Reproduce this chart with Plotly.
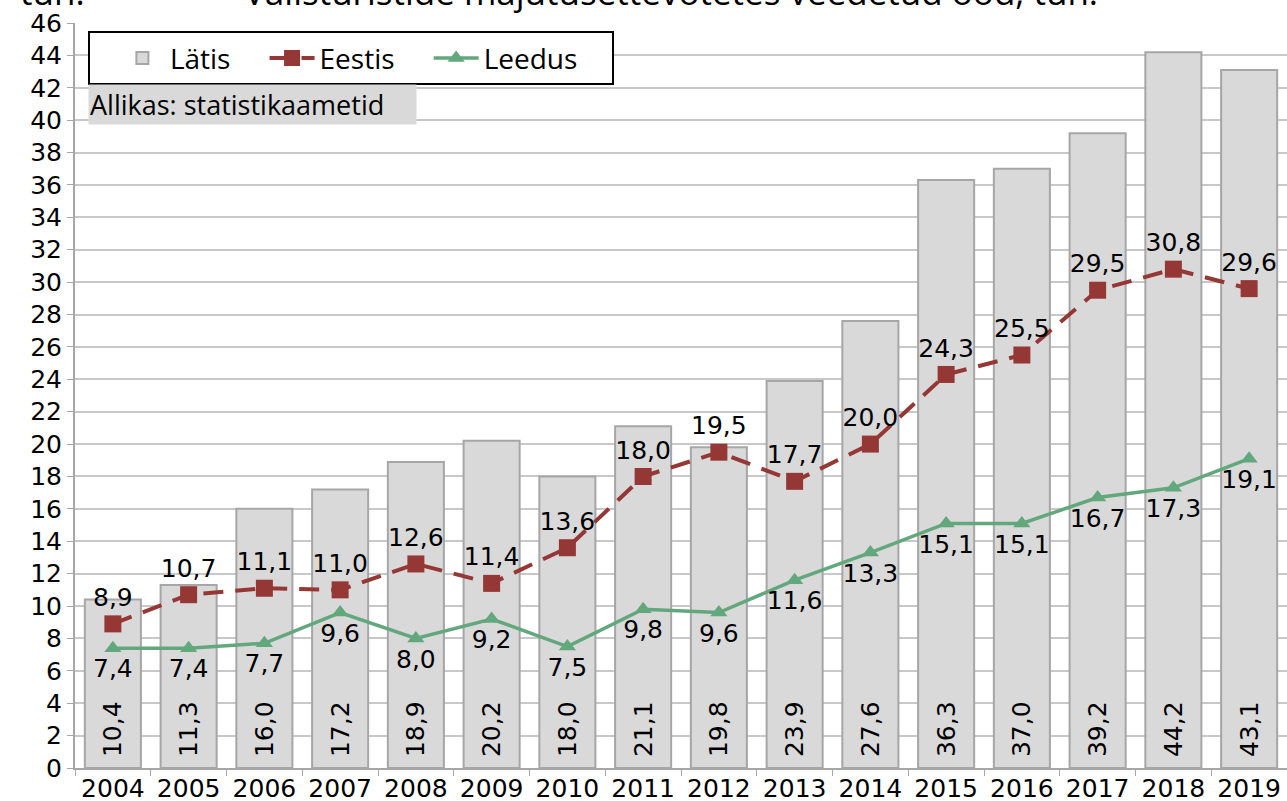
import plotly.graph_objects as go

years = [str(y) for y in range(2004, 2020)]
latis = [10.4, 11.3, 16.0, 17.2, 18.9, 20.2, 18.0, 21.1, 19.8, 23.9, 27.6, 36.3, 37.0, 39.2, 44.2, 43.1]
eestis = [8.9, 10.7, 11.1, 11.0, 12.6, 11.4, 13.6, 18.0, 19.5, 17.7, 20.0, 24.3, 25.5, 29.5, 30.8, 29.6]
leedus = [7.4, 7.4, 7.7, 9.6, 8.0, 9.2, 7.5, 9.8, 9.6, 11.6, 13.3, 15.1, 15.1, 16.7, 17.3, 19.1]

def fmt(v):
    return f"{v:.1f}".replace(".", ",")

NUMFONT = "DejaVu Sans"
TXTFONT = "Liberation Sans Narrow, Open Sans"
SP = "\u00a0"

fig = go.Figure()
fig.add_trace(go.Bar(
    x=years, y=latis, name="Lätis" + SP * 4,
    marker=dict(color="#d9d9d9", line=dict(color="#a6a6a6", width=2)),
    text=[SP + fmt(v) for v in latis], textposition="inside", insidetextanchor="start",
    textangle=-90, textfont=dict(family=NUMFONT, size=25, color="black"),
    constraintext="none", cliponaxis=False,
))
fig.add_trace(go.Scatter(
    x=years, y=eestis, name="Eestis" + SP * 4, mode="lines+markers+text",
    line=dict(color="#953735", width=4, dash="20px,12px"),
    marker=dict(symbol="square", size=17, color="#953735"),
    text=[fmt(v) for v in eestis], textposition="top center",
    textfont=dict(family=NUMFONT, size=25, color="black"),
    cliponaxis=False,
))
fig.add_trace(go.Scatter(
    x=years, y=leedus, name="Leedus" + SP * 4, mode="lines+markers+text",
    line=dict(color="#62a87c", width=3.5),
    marker=dict(symbol="triangle-up", size=15, color="#62a87c"),
    text=[fmt(v) for v in leedus], textposition="bottom center",
    textfont=dict(family=NUMFONT, size=25, color="black"),
    cliponaxis=False,
))

fig.update_layout(
    width=1287, height=801,
    margin=dict(l=75, r=0, t=23, b=33),
    plot_bgcolor="white", paper_bgcolor="white",
    bargap=0.26,
    showlegend=True,
    legend=dict(
        orientation="h", x=0.011, y=0.989, xanchor="left", yanchor="top",
        bgcolor="white", bordercolor="black", borderwidth=2,
        font=dict(family=TXTFONT, size=28, color="black"),
        itemwidth=45,
        title=dict(text=SP * 2, side="left", font=dict(family=TXTFONT, size=28)),
    ),
    xaxis=dict(
        type="category", range=[-0.5, 15.5], tickson="boundaries", ticks="outside", ticklen=6,
        tickcolor="#a6a6a6", showline=True, linecolor="#a6a6a6", linewidth=2,
        tickfont=dict(family=NUMFONT, size=25, color="black"),
        showgrid=False, automargin=False, ticklabelstandoff=-3,
    ),
    yaxis=dict(
        range=[0, 46], dtick=2, tick0=0, ticks="outside", ticklen=6,
        tickcolor="#a6a6a6", showline=True, linecolor="#a6a6a6", linewidth=2,
        gridcolor="#c8c8c8", gridwidth=2,
        tickfont=dict(family=NUMFONT, size=25, color="black"),
        zeroline=False, automargin=False,
    ),
    annotations=[
        dict(text="Allikas: statistikaametid", xref="paper", yref="paper",
             x=0.011, y=0.918, xanchor="left", yanchor="top", showarrow=False,
             bgcolor="#d9d9d9", borderpad=1,
             font=dict(family=TXTFONT, size=27, color="black"), width=325, align="left"),
        dict(text="Välisturistide majutusettevõtetes veedetud ööd, tuh.", xref="paper", yref="paper",
             x=0.492, y=1, xanchor="center", yanchor="bottom", yshift=6, showarrow=False,
             font=dict(family=TXTFONT, size=35, color="black")),
        dict(text="tuh.", xref="paper", yref="paper",
             x=-0.047, y=1, xanchor="left", yanchor="bottom", yshift=6, showarrow=False,
             font=dict(family=TXTFONT, size=35, color="black")),
    ],
)

fig.write_html("out.html", post_script="document.body.style.margin='0';",
               config={"displayModeBar": False})
